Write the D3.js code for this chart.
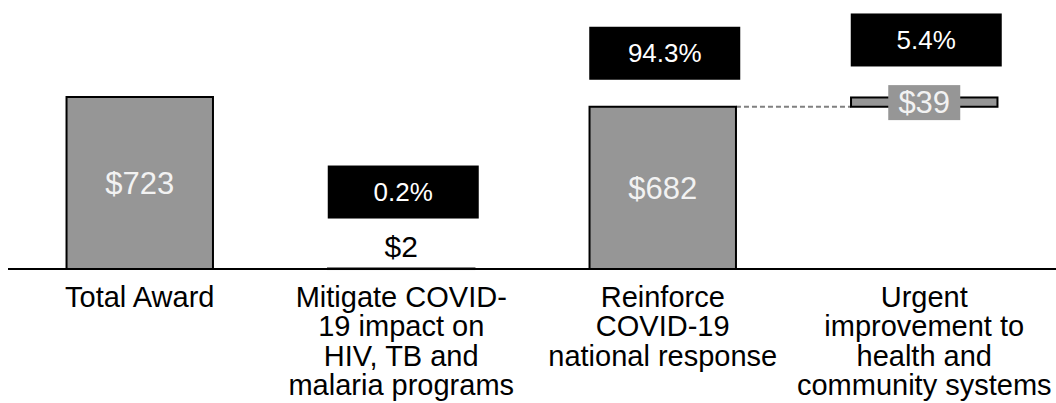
<!DOCTYPE html>
<html>
<head>
<meta charset="utf-8">
<script src="https://cdn.jsdelivr.net/npm/d3@7"></script>
<style>
  body { margin: 0; background: #fff; }
  svg { display: block; font-family: "Liberation Sans", Arial, sans-serif; }
</style>
</head>
<body>
<div id="chart"></div>
<script>
// waterfall data (USD millions)
const categories = ["Total Award", "Mitigate", "Reinforce", "Urgent"];
const labelLines = [
    ["Total Award"],
    ["Mitigate COVID-", "19 impact on", "HIV, TB and", "malaria programs"],
    ["Reinforce", "COVID-19", "national response"],
    ["Urgent", "improvement to", "health and", "community systems"]
];
const amounts = [723, 2, 682, 39];
const isTotal = [true, false, false, false];
const shares = ["", "0.2%", "94.3%", "5.4%"];

const width = 1056;
const height = 403;
const baseY = 269;

const svg = d3.select("#chart")
    .append("svg")
    .attr("width", width)
    .attr("height", height);

const x = d3.scaleBand()
    .domain(categories)
    .range([9, 1055])
    .paddingInner(0.44)
    .paddingOuter(0.22);

const y = d3.scaleLinear()
    .domain([0, d3.max(amounts)])
    .range([baseY, 97]);

// stack: pieces after the total build up from 0 (first piece) to the total
let running = 0;
const bars = categories.map((c, i) => {
    let lo, hi;
    if (isTotal[i]) { lo = 0; hi = amounts[i]; }
    else { lo = running; hi = running + amounts[i]; running = hi; }
    return { cat: c, lo: lo, hi: hi, amt: amounts[i], share: shares[i], i: i };
});
// small steps in order: mitigate sits on 0, reinforce on 0 (separate), urgent on top of reinforce
bars[1].lo = 0; bars[1].hi = amounts[1];
bars[2].lo = 0; bars[2].hi = amounts[2];
bars[3].lo = amounts[2]; bars[3].hi = amounts[2] + amounts[3];

// connector between reinforce and urgent
svg.append("line")
    .attr("x1", x("Reinforce") + x.bandwidth())
    .attr("x2", x("Urgent"))
    .attr("y1", y(bars[2].hi))
    .attr("y2", y(bars[2].hi))
    .attr("stroke", "#808080")
    .attr("stroke-width", 2)
    .attr("stroke-dasharray", "5,3");

svg.append("g")
    .selectAll("rect")
    .data(bars)
    .join("rect")
    .attr("x", d => x(d.cat))
    .attr("y", d => y(d.hi))
    .attr("width", x.bandwidth())
    .attr("height", d => Math.max(0.5, y(d.lo) - y(d.hi)))
    .attr("fill", "#969696")
    .attr("stroke", "#000")
    .attr("stroke-width", 2);

// baseline
svg.append("line")
    .attr("x1", 8).attr("x2", width)
    .attr("y1", baseY).attr("y2", baseY)
    .attr("stroke", "#000")
    .attr("stroke-width", 2);

// value labels
const cx = d => x(d.cat) + x.bandwidth() / 2;

// inside bars
svg.append("g")
    .selectAll("text")
    .data([bars[0], bars[2]])
    .join("text")
    .attr("x", cx)
    .attr("y", d => (y(d.hi) + y(d.lo)) / 2)
    .attr("dy", "0.35em")
    .attr("text-anchor", "middle")
    .attr("font-size", 31)
    .attr("fill", "#f2f2f2")
    .text(d => "$" + d.amt);

// $2 above tiny bar
svg.append("text")
    .attr("x", cx(bars[1]))
    .attr("y", y(bars[1].hi) - 12)
    .attr("text-anchor", "middle")
    .attr("font-size", 30)
    .attr("fill", "#000")
    .text("$" + bars[1].amt);

// $39 on a grey patch over the floating bar
const mid3 = (y(bars[3].hi) + y(bars[3].lo)) / 2;
svg.append("rect")
    .attr("x", cx(bars[3]) - 36)
    .attr("y", mid3 - 17)
    .attr("width", 72)
    .attr("height", 35)
    .attr("fill", "#969696");
svg.append("text")
    .attr("x", cx(bars[3]))
    .attr("y", mid3)
    .attr("dy", "0.35em")
    .attr("text-anchor", "middle")
    .attr("font-size", 31)
    .attr("fill", "#f2f2f2")
    .text("$" + bars[3].amt);

// share boxes above each piece
const boxGap = [0, 50, 27, 31];
const boxW = 151, boxH = 53;
const shareBars = bars.filter(d => d.share !== "");
const box = svg.append("g")
    .selectAll("g")
    .data(shareBars)
    .join("g")
    .attr("transform", d => `translate(${cx(d) - boxW / 2 + 2}, ${y(d.hi) - boxGap[d.i] - boxH})`);

box.append("rect")
    .attr("width", boxW)
    .attr("height", boxH)
    .attr("fill", "#000");

box.append("text")
    .attr("x", boxW / 2)
    .attr("y", boxH / 2)
    .attr("dy", "0.35em")
    .attr("text-anchor", "middle")
    .attr("font-size", 26)
    .attr("fill", "#fff")
    .text(d => d.share);

// category labels
svg.append("g")
    .selectAll("text")
    .data(bars)
    .join("text")
    .attr("x", cx)
    .attr("y", 307)
    .attr("text-anchor", "middle")
    .attr("font-size", 29)
    .attr("fill", "#000")
    .each(function(d) {
        d3.select(this).selectAll("tspan")
            .data(labelLines[d.i])
            .join("tspan")
            .attr("x", cx(d))
            .attr("dy", (l, j) => j === 0 ? 0 : 29.3)
            .text(l => l);
    });
</script>
</body>
</html>
